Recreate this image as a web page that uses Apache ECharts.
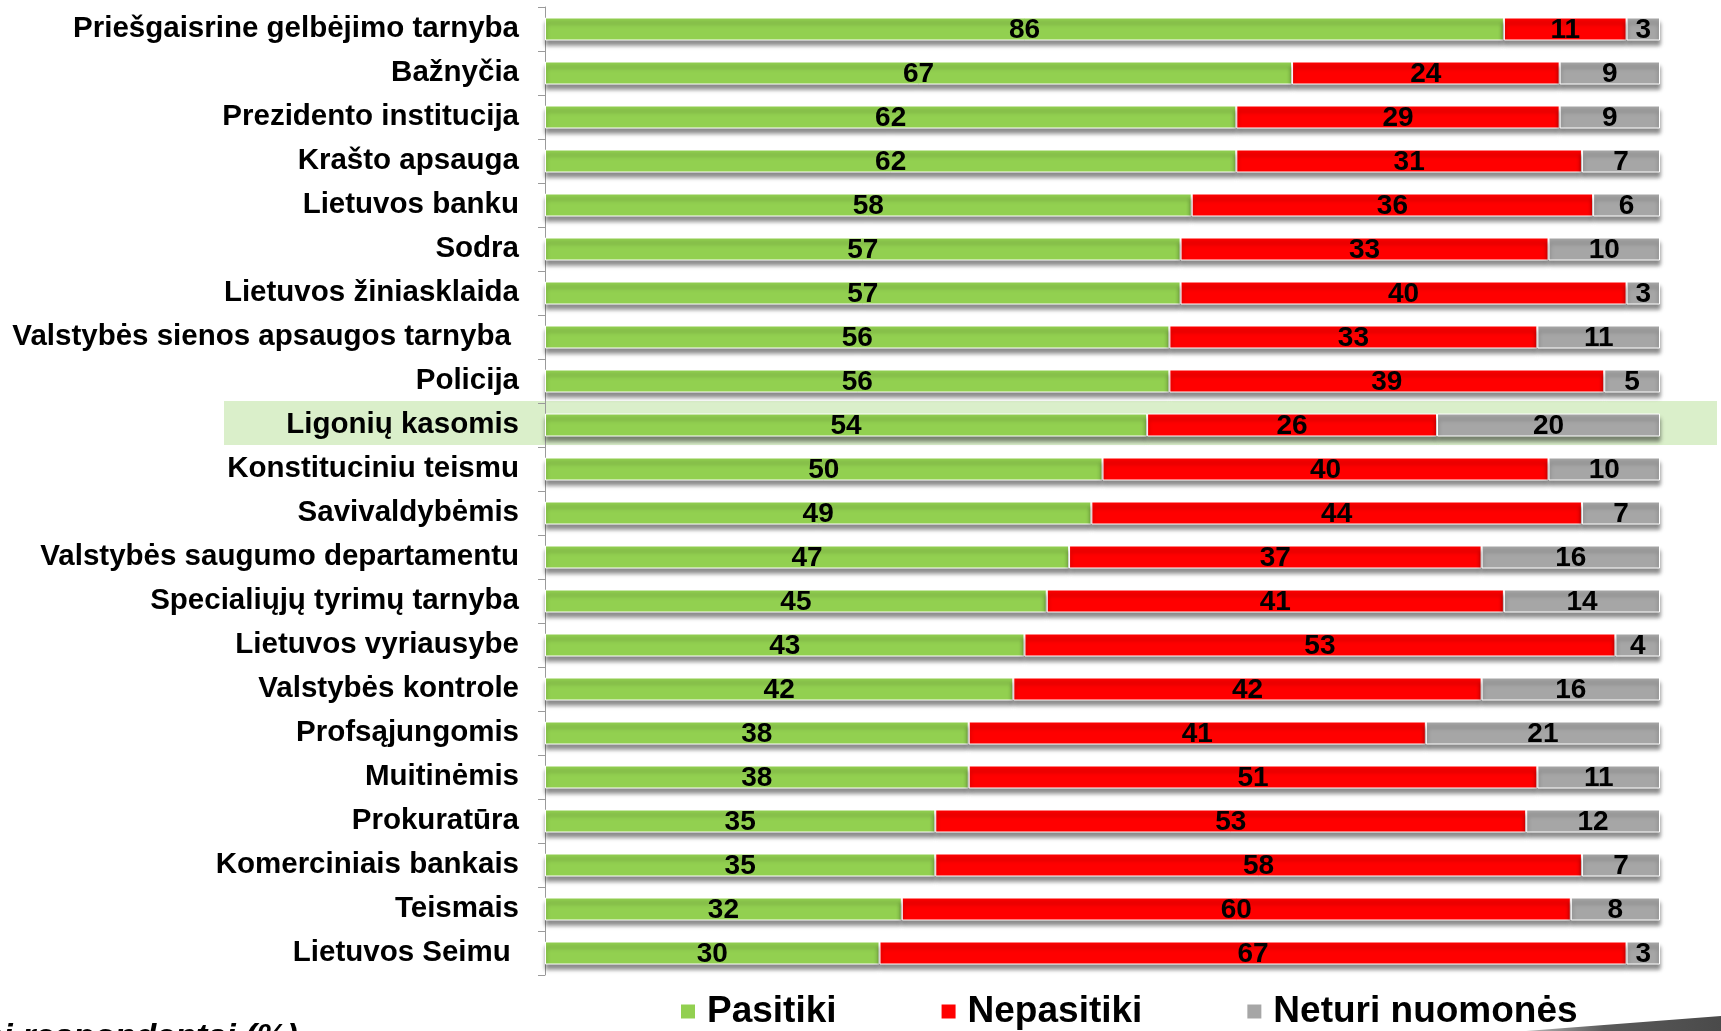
<!DOCTYPE html>
<html>
<head>
<meta charset="utf-8">
<script src="https://cdn.jsdelivr.net/npm/echarts@6/dist/echarts.min.js"></script>
<style>
html,body{margin:0;padding:0;background:#fff;}
#c{width:1721px;height:1031px;}
</style>
</head>
<body>
<div id="c"></div>
<script>
var categories = [
  'Priešgaisrine gelbėjimo tarnyba',
  'Bažnyčia',
  'Prezidento institucija',
  'Krašto apsauga',
  'Lietuvos banku',
  'Sodra',
  'Lietuvos žiniasklaida',
  'Valstybės sienos apsaugos tarnyba ',
  'Policija',
  'Ligonių kasomis',
  'Konstituciniu teismu',
  'Savivaldybėmis',
  'Valstybės saugumo departamentu',
  'Specialiųjų tyrimų tarnyba',
  'Lietuvos vyriausybe',
  'Valstybės kontrole',
  'Profsąjungomis',
  'Muitinėmis',
  'Prokuratūra',
  'Komerciniais bankais',
  'Teismais',
  'Lietuvos Seimu '
];
var pasitiki    = [86, 67, 62, 62, 58, 57, 57, 56, 56, 54, 50, 49, 47, 45, 43, 42, 38, 38, 35, 35, 32, 30];
var nepasitiki  = [11, 24, 29, 31, 36, 33, 40, 33, 39, 26, 40, 44, 37, 41, 53, 42, 41, 51, 53, 58, 60, 67];
var neturi      = [3, 9, 9, 7, 6, 10, 3, 11, 5, 20, 10, 7, 16, 14, 4, 16, 21, 11, 12, 7, 8, 3];
var seriesNames = ['Pasitiki', 'Nepasitiki', 'Neturi nuomonės'];
var highlighted = 'Ligonių kasomis';
var footnote = 'Visi respondentai (%)';

var colors = ['#92d050', '#ff0000', '#a6a6a6'];
var FONT = '"Liberation Sans", Arial, sans-serif';

var chart = echarts.init(document.getElementById('c'), null, {renderer: 'canvas'});

function mk(name, data, color) {
  return {
    name: name,
    type: 'bar',
    stack: 'total',
    data: data,
    barWidth: 23,
    itemStyle: {
      color: color,
      borderColor: '#ffffff',
      borderWidth: 1,
      shadowColor: 'rgba(0,0,0,0.45)',
      shadowBlur: 4,
      shadowOffsetY: 5
    },
    label: {
      show: true,
      position: 'inside',
      color: '#000',
      fontFamily: FONT,
      fontWeight: 'bold',
      fontSize: 28,
      offset: [0, 1]
    },
    emphasis: {disabled: true},
    z: 3
  };
}

var option = {
  animation: false,
  color: colors,
  grid: {left: 545, right: 61, top: 7, bottom: 56, containLabel: false},
  xAxis: {
    type: 'value',
    min: 0,
    max: 100,
    show: false
  },
  yAxis: {
    type: 'category',
    inverse: true,
    data: categories,
    axisLine: {show: true, lineStyle: {color: '#9a9a9a', width: 1}},
    axisTick: {show: true, length: 7, lineStyle: {color: '#9a9a9a'}},
    axisLabel: {
      margin: 26,
      color: '#000',
      fontFamily: FONT,
      fontWeight: 'bold',
      fontSize: 29.5,
      padding: [6, 0, 0, 0]
    }
  },
  legend: {
    left: 674,
    top: 988,
    icon: 'rect',
    itemWidth: 16,
    itemHeight: 16,
    itemGap: 103,
    selectedMode: false,
    data: seriesNames,
    textStyle: {
      color: '#000',
      fontFamily: FONT,
      fontWeight: 'bold',
      fontSize: 37,
      padding: [0, 0, 0, 6]
    }
  },
  series: [
    mk(seriesNames[0], pasitiki, colors[0]),
    mk(seriesNames[1], nepasitiki, colors[1]),
    mk(seriesNames[2], neturi, colors[2])
  ]
};
chart.setOption(option);

// highlight band behind the highlighted category
var idx = categories.indexOf(highlighted);
var yc = chart.convertToPixel({yAxisIndex: 0}, highlighted);
var yn = chart.convertToPixel({yAxisIndex: 0}, categories[idx + 1]);
var band = Math.abs(yn - yc);
chart.setOption({
  graphic: [
    {
      type: 'rect',
      z: -10,
      silent: true,
      shape: {x: 224, y: yc - band / 2 - 2, width: 1717 - 224, height: band},
      style: {fill: '#daefca'}
    },
    {
      type: 'text',
      silent: true,
      style: {
        x: 298, y: 1021,
        text: footnote,
        textAlign: 'right',
        textVerticalAlign: 'top',
        font: 'italic bold 34px ' + FONT,
        fill: '#000'
      }
    },
    {
      type: 'polygon',
      silent: true,
      shape: {points: [[1526, 1031], [1721, 1016], [1721, 1031]]},
      style: {
        fill: new echarts.graphic.LinearGradient(0, 0, 1, 0, [
          {offset: 0, color: '#b8b8b8'},
          {offset: 0.4, color: '#5a5a5a'},
          {offset: 1, color: '#4a4a4a'}
        ])
      }
    }
  ]
});
</script>
</body>
</html>
